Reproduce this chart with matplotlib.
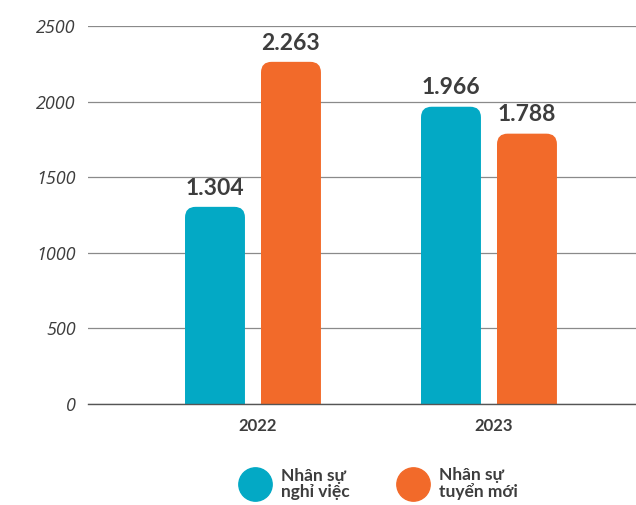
import numpy as np
import matplotlib.pyplot as plt
from matplotlib.patches import FancyBboxPatch
from matplotlib.lines import Line2D

years = ['2022', '2023']
nghi_viec = [1304, 1966]
tuyen_moi = [2263, 1788]
series_names = ['Nhân sự\nnghỉ việc', 'Nhân sự\ntuyển mới']
value_labels_nv = ['1.304', '1.966']
value_labels_tm = ['2.263', '1.788']

teal = '#03A9C5'
orange = '#F26A2A'
text_col = '#3d3d3d'

fig = plt.figure(figsize=(6.36, 5.05), dpi=100)
ax = fig.add_axes([0.1384, 0.2, 0.8616, 0.7485])

x = np.arange(len(years))
w = 0.254
off = 0.161

bars1 = ax.bar(x - off, nghi_viec, w, color=teal)
bars2 = ax.bar(x + off, tuyen_moi, w, color=orange)

ax.set_xlim(-0.699, 1.623)
ax.set_ylim(0, 2500)

# swap plain rectangles for ones with rounded top corners
rx = 0.045
ry = 70
for bars in (bars1, bars2):
    for b in bars:
        b.set_visible(False)
        p = FancyBboxPatch((b.get_x(), -ry), b.get_width(), b.get_height() + ry,
                           boxstyle=f"round,pad=0,rounding_size={rx}",
                           mutation_aspect=ry / rx,
                           facecolor=b.get_facecolor(), edgecolor='none', zorder=2)
        ax.add_patch(p)

for bars, labels in ((bars1, value_labels_nv), (bars2, value_labels_tm)):
    for b, lab in zip(bars, labels):
        ax.annotate(lab, (b.get_x() + b.get_width() / 2, b.get_height()),
                    xytext=(0, 6), textcoords='offset points',
                    ha='center', va='bottom', fontsize=16.5, fontweight='bold',
                    family='Lato', color=text_col)

ax.set_yticks([0, 500, 1000, 1500, 2000, 2500])
ax.grid(axis='y', color='#8a8a8a', linewidth=0.9, zorder=0)
ax.set_axisbelow(True)
for s in ['top', 'right', 'left']:
    ax.spines[s].set_visible(False)
ax.spines['bottom'].set_color('#555555')
ax.spines['bottom'].set_linewidth(1.0)
ax.tick_params(axis='y', length=0, pad=9, labelsize=13, labelcolor=text_col)
for t in ax.get_yticklabels():
    t.set_fontstyle('italic')
    t.set_family('Open Sans')

ax.set_xticks(x + 0.02)
ax.set_xticklabels(years, fontsize=12, fontweight='bold', family='Lato', color=text_col)
ax.tick_params(axis='x', length=0, pad=10)

handles = [Line2D([], [], marker='o', linestyle='none', markersize=24, color=teal),
           Line2D([], [], marker='o', linestyle='none', markersize=24, color=orange)]
leg = fig.legend(handles, series_names, loc='center', bbox_to_anchor=(0.594, 0.042),
                 ncol=2, frameon=False, handletextpad=0.5, columnspacing=2.6,
                 prop={'family': 'Lato', 'weight': 'bold', 'size': 12.5})
for t in leg.get_texts():
    t.set_color(text_col)
    t.set_linespacing(1.0)

fig.savefig('out.png', dpi=100)
